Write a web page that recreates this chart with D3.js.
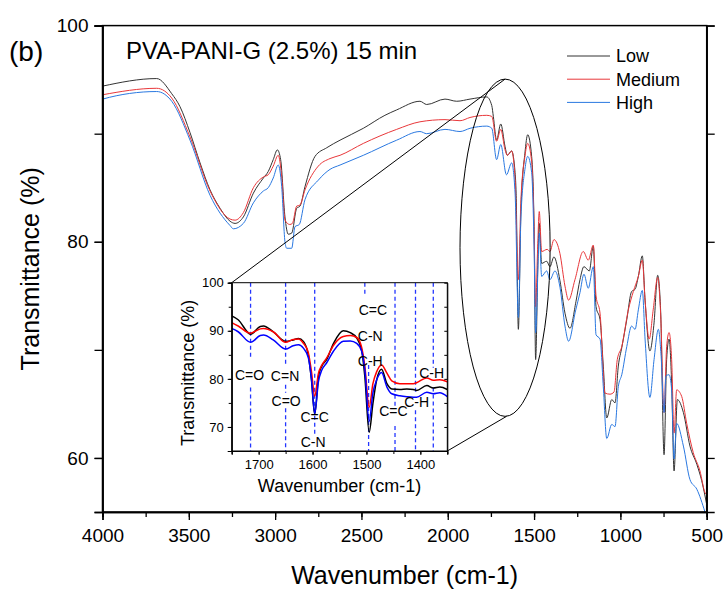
<!DOCTYPE html>
<html lang="en">
<head>
  <meta charset="UTF-8" />
  <title>PVA-PANI-G (2.5%) 15 min FTIR</title>
  <style>
    body { margin: 0; background: #fff; }
    svg { display: block; font-family: "Liberation Sans", Arial, sans-serif; }
    .axis path, .axis line { stroke: #000; }
    .axis text { fill: #000; }
  </style>
  <script src="https://cdn.jsdelivr.net/npm/d3@7"></script>
</head>
<body>
  <svg id="chart" width="728" height="590"></svg>

  <script>
    // ---- data (wavenumber cm-1, transmittance %) ----
    const seriesNames = ['Low', 'Medium', 'High'];

    const lowMain = [
      [4000, 94.4], [3686, 95.1], [3599, 93.7], [3551, 92.5], [3493, 90.1], [3435, 87.3],
      [3377, 84.8], [3319, 83.1], [3261, 81.9], [3232, 81.7], [3184, 82.3], [3126, 84.5],
      [3068, 85.9], [3040, 86.5], [3011, 87.6], [2987, 88.5], [2968, 87.6], [2943, 82.3],
      [2924, 80.7], [2904, 80.8], [2875, 83.1], [2856, 83.3], [2827, 85.1], [2769, 87.9],
      [2701, 88.7], [2624, 89.4], [2489, 90.5], [2364, 91.7], [2296, 92.2], [2161, 93.0],
      [2122, 92.7], [2016, 93.2], [1948, 93.0], [1871, 93.2], [1774, 93.4], [1745, 92.6],
      [1736, 91.6], [1717, 89.4], [1693, 90.9], [1668, 88.8], [1655, 88.0], [1630, 88.4],
      [1610, 86.4], [1604, 84.5], [1591, 71.9], [1576, 83.0], [1553, 88.2], [1537, 89.9],
      [1514, 87.9], [1500, 81.4], [1491, 69.1], [1476, 79.6], [1470, 81.7], [1456, 78.0],
      [1427, 78.2], [1408, 77.7], [1385, 78.6], [1350, 76.4], [1321, 73.4], [1292, 72.0],
      [1257, 74.5], [1234, 76.5], [1211, 77.7], [1180, 77.3], [1157, 79.6], [1141, 74.0],
      [1118, 72.8], [1099, 68.5], [1079, 63.7], [1050, 65.4], [1031, 65.1], [1012, 68.5],
      [992, 70.2], [963, 72.8], [935, 75.4], [915, 75.6], [896, 76.8], [873, 78.7],
      [857, 74.6], [829, 69.9], [805, 72.5], [784, 76.9], [767, 73.7], [747, 60.3],
      [732, 69.1], [718, 71.0], [703, 66.9], [689, 58.8], [670, 65.4], [635, 64.2],
      [597, 61.1], [557, 59.4], [529, 57.9], [500, 55.7]
    ];

    const mediumMain = [
      [4000, 93.6], [3686, 94.2], [3599, 93.3], [3493, 89.7], [3377, 84.7], [3261, 82.1],
      [3232, 82.0], [3184, 82.7], [3126, 85.0], [3068, 86.0], [3040, 86.2], [3011, 87.0],
      [2982, 88.0], [2962, 86.0], [2943, 82.0], [2915, 81.6], [2900, 81.7], [2875, 83.3],
      [2856, 83.4], [2827, 84.8], [2750, 87.0], [2682, 87.7], [2624, 88.0], [2489, 89.1],
      [2296, 90.4], [2161, 91.1], [2016, 91.3], [1929, 91.2], [1871, 91.5], [1774, 91.7],
      [1745, 91.6], [1717, 89.3], [1693, 90.4], [1668, 88.5], [1655, 88.0], [1630, 88.4],
      [1610, 85.7], [1591, 76.5], [1576, 83.9], [1553, 87.9], [1537, 89.1], [1514, 87.4],
      [1500, 81.4], [1491, 74.0], [1479, 79.6], [1470, 82.8], [1456, 79.1], [1424, 79.3],
      [1408, 79.1], [1385, 80.2], [1350, 78.9], [1321, 75.9], [1300, 74.6], [1263, 76.5],
      [1215, 79.1], [1186, 78.3], [1157, 79.7], [1141, 75.0], [1118, 73.4], [1089, 66.0],
      [1060, 65.9], [1037, 66.1], [1018, 69.1], [992, 70.3], [954, 73.7], [925, 75.4],
      [896, 76.8], [873, 78.3], [857, 74.6], [833, 71.0], [810, 73.7], [784, 76.7],
      [767, 73.4], [747, 64.2], [732, 70.3], [718, 71.6], [703, 69.1], [689, 62.3],
      [674, 66.3], [645, 65.7], [616, 63.2], [578, 60.5], [539, 58.8], [510, 56.8],
      [500, 56.6]
    ];

    const highMain = [
      [4000, 55.0], [3999, 93.2], [3686, 93.9], [3599, 93.0], [3493, 89.4], [3377, 84.3],
      [3261, 81.5], [3242, 81.2], [3184, 81.7], [3126, 83.6], [3068, 84.7], [3040, 85.0],
      [3011, 85.9], [2982, 87.1], [2962, 85.1], [2943, 80.0], [2933, 79.4], [2904, 79.4],
      [2885, 81.4], [2860, 81.6], [2827, 83.9], [2750, 85.7], [2682, 86.7], [2624, 87.1],
      [2489, 88.0], [2296, 89.4], [2161, 90.2], [2122, 90.0], [2016, 90.4], [1929, 90.2],
      [1871, 90.5], [1774, 90.7], [1745, 90.5], [1717, 87.6], [1693, 89.0], [1660, 86.2],
      [1630, 87.3], [1610, 84.5], [1591, 73.0], [1576, 82.3], [1553, 86.7], [1537, 87.9],
      [1514, 86.4], [1500, 79.6], [1491, 71.6], [1476, 78.3], [1470, 80.8], [1456, 76.8],
      [1427, 77.3], [1408, 76.5], [1379, 77.3], [1350, 75.8], [1321, 72.2], [1300, 70.8],
      [1260, 73.6], [1234, 75.3], [1211, 77.0], [1186, 75.7], [1157, 77.7], [1141, 71.4],
      [1118, 71.0], [1099, 66.6], [1079, 61.8], [1050, 63.1], [1031, 62.9], [1012, 66.6],
      [992, 67.7], [963, 70.3], [935, 72.2], [915, 71.9], [896, 73.7], [873, 75.5],
      [857, 71.0], [829, 65.6], [805, 69.1], [780, 71.9], [764, 69.4], [747, 64.2],
      [736, 67.6], [718, 67.7], [703, 66.3], [689, 59.9], [674, 63.2], [635, 61.1],
      [597, 58.0], [557, 57.1], [510, 55.0]
    ];

    // inset (1750 - 1350 cm-1)
    const insetWn = [1750, 1738, 1715, 1697, 1691, 1673, 1650, 1636, 1626, 1617, 1608, 1602,
      1596, 1589, 1583, 1574, 1561, 1543, 1530, 1518, 1509, 1503, 1495, 1488, 1481, 1472,
      1462, 1453, 1438, 1425, 1413, 1407, 1388, 1376, 1364, 1350];
    const insetLow = [93.1, 92.3, 89.3, 90.9, 91.0, 89.8, 87.8, 88.1, 88.4, 87.8, 85.0, 79.8,
      72.6, 80.5, 82.6, 84.0, 87.4, 90.0, 89.6, 88.5, 86.0, 80.5, 68.9, 74.9, 79.8, 82.0,
      79.0, 77.9, 77.8, 77.9, 77.8, 77.6, 78.6, 78.1, 78.3, 77.8];
    const insetMedium = [91.7, 91.0, 89.5, 90.4, 90.5, 89.8, 87.6, 88.2, 88.3, 87.4, 85.5, 81.5,
      76.4, 81.2, 82.8, 84.3, 87.0, 88.8, 89.0, 88.6, 86.6, 82.6, 74.1, 79.0, 81.5, 82.9,
      81.2, 79.6, 79.0, 79.0, 79.0, 79.2, 80.2, 79.7, 79.8, 79.4];
    const insetHigh = [90.5, 89.8, 87.6, 89.0, 89.1, 88.1, 86.2, 86.9, 87.1, 86.4, 84.5, 80.0,
      72.8, 79.5, 81.8, 83.3, 85.8, 87.8, 87.9, 87.4, 85.8, 81.9, 71.2, 77.1, 79.8, 81.3,
      78.3, 76.9, 76.5, 76.3, 76.2, 76.2, 77.2, 76.9, 77.1, 76.3];

    // band markers in the inset: wavenumber and visible dashed segments [from, to] in %
    const bandLines = [
      { wn: 1715, segs: [[100, 84.4], [78.2, 65]] },
      { wn: 1650, segs: [[100, 82.6], [78.8, 77.1], [73.9, 65]] },
      { wn: 1596, segs: [[100, 68.2]] },
      { wn: 1503, segs: [[100, 97.4]] },
      { wn: 1496, segs: [[82.9, 65]] },
      { wn: 1447, segs: [[100, 74.3], [70.2, 65]] },
      { wn: 1409, segs: [[100, 76.8], [73.5, 65]] },
      { wn: 1376, segs: [[100, 82.3], [78.2, 65]] }
    ];
    const bandLabels = [
      { text: 'C=O', wn: 1717, t: 79.8 },
      { text: 'C=N', wn: 1651, t: 79.6 },
      { text: 'C=O', wn: 1649, t: 74.3 },
      { text: 'C=C', wn: 1596, t: 71.0 },
      { text: 'C-N', wn: 1599, t: 65.8 },
      { text: 'C=C', wn: 1488, t: 93.3 },
      { text: 'C-N', wn: 1493, t: 87.9 },
      { text: 'C-H', wn: 1493, t: 82.6 },
      { text: 'C=C', wn: 1450, t: 72.3 },
      { text: 'C-H', wn: 1407, t: 74.1 },
      { text: 'C-H', wn: 1379, t: 80.1 }
    ];

    const mainXTicks = d3.range(4000, 499, -500);
    const mainYTicks = [100, 80, 60];
    const insetXTicks = [1700, 1600, 1500, 1400];
    const insetYTicks = [100, 90, 80, 70];

    // zoom ellipse (centre wn / %, half widths in wn / %)
    const zoomEllipse = { wn: 1668, t: 79.45, dwn: 261, dt: 15.6 };

    // ---- layout ----
    const mainColors = ['#333333', '#e8373a', '#2a78e0'];
    const insetColors = ['#000000', '#ff0000', '#0000ff'];
    const plot = { left: 102.5, right: 706.7, top: 25.6, bottom: 512 };
    const inset = { left: 231.7, right: 447.3, top: 282.7, bottom: 451 };

    const svg = d3.select('#chart');

    const x = d3.scaleLinear().domain([4000, 500]).range([plot.left, plot.right]);
    const y = d3.scaleLinear().domain([55, 100]).range([plot.bottom, plot.top]);

    // main spectra
    const mainLine = d3.line()
      .x(d => x(d[0]))
      .y(d => y(d[1]))
      .curve(d3.curveMonotoneX);

    svg.append('defs').append('clipPath').attr('id', 'mainClip')
      .append('rect')
      .attr('x', plot.left).attr('y', plot.top)
      .attr('width', plot.right - plot.left).attr('height', plot.bottom - plot.top);

    const mainG = svg.append('g').attr('clip-path', 'url(#mainClip)');
    [lowMain, mediumMain, highMain].forEach((s, i) => {
      mainG.append('path')
        .datum(s)
        .attr('d', mainLine)
        .attr('fill', 'none')
        .attr('stroke', mainColors[i])
        .attr('stroke-width', 1);
    });

    // axes
    const xMinor = d3.axisBottom(x).tickValues(d3.range(4000, 499, -250)).tickSize(5).tickFormat('');
    const xMajor = d3.axisBottom(x).tickValues(mainXTicks).tickSize(8).tickPadding(9).tickFormat(d3.format('d'));
    svg.append('g').attr('class', 'axis').attr('transform', `translate(0,${plot.bottom})`).call(xMinor);
    svg.append('g').attr('class', 'axis').attr('transform', `translate(0,${plot.bottom})`).call(xMajor)
      .selectAll('text').style('font-size', '19px');

    const yAll = d3.axisLeft(y).tickValues(d3.range(100, 59, -10)).tickSize(8).tickFormat('');
    const yMajor = d3.axisLeft(y).tickValues(mainYTicks).tickSize(8).tickPadding(6);
    svg.append('g').attr('class', 'axis').attr('transform', `translate(${plot.left},0)`).call(yAll);
    svg.append('g').attr('class', 'axis').attr('transform', `translate(${plot.left},0)`).call(yMajor)
      .selectAll('text').style('font-size', '19px');

    svg.append('g').attr('class', 'axis').attr('transform', `translate(${plot.right},0)`)
      .call(d3.axisRight(y).tickValues(d3.range(100, 59, -10)).tickSize(8).tickFormat(''));

    svg.selectAll('.axis path').attr('stroke-width', 1.5);
    svg.selectAll('.axis line').attr('stroke-width', 1.3);

    svg.append('rect')
      .attr('x', plot.left).attr('y', plot.top)
      .attr('width', plot.right - plot.left).attr('height', plot.bottom - plot.top)
      .attr('fill', 'none').attr('stroke', '#000').attr('stroke-width', 1.5);

    // titles
    svg.append('text')
      .attr('x', (plot.left + plot.right) / 2).attr('y', 584)
      .attr('text-anchor', 'middle').style('font-size', '25px')
      .text('Wavenumber (cm-1)');
    svg.append('text')
      .attr('transform', `translate(39,${(plot.top + plot.bottom) / 2}) rotate(-90)`)
      .attr('text-anchor', 'middle').style('font-size', '25px')
      .text('Transmittance (%)');
    svg.append('text').attr('x', 9).attr('y', 61).style('font-size', '28px').text('(b)');
    svg.append('text').attr('x', 126).attr('y', 59).style('font-size', '24px')
      .text('PVA-PANI-G (2.5%) 15 min');

    // legend
    const legend = svg.append('g').attr('transform', 'translate(567,56)');
    seriesNames.forEach((name, i) => {
      const row = legend.append('g').attr('transform', `translate(0,${i * 23.2})`);
      row.append('line').attr('x1', 0).attr('x2', 43).attr('y1', 0).attr('y2', 0)
        .attr('stroke', mainColors[i]).attr('stroke-width', 1);
      row.append('text').attr('x', 49).attr('y', 6.3).style('font-size', '18px').text(name);
    });

    // zoom ellipse and connectors
    const ecx = x(zoomEllipse.wn), ecy = y(zoomEllipse.t);
    const erx = Math.abs(x(zoomEllipse.wn - zoomEllipse.dwn) - ecx);
    const ery = Math.abs(y(zoomEllipse.t + zoomEllipse.dt) - ecy);
    svg.append('ellipse')
      .attr('cx', ecx).attr('cy', ecy).attr('rx', erx).attr('ry', ery)
      .attr('fill', 'none').attr('stroke', '#000').attr('stroke-width', 1);
    svg.append('line')
      .attr('x1', inset.left).attr('y1', inset.top).attr('x2', ecx).attr('y2', ecy - ery)
      .attr('stroke', '#000').attr('stroke-width', 1);
    svg.append('line')
      .attr('x1', inset.right).attr('y1', inset.bottom).attr('x2', ecx + 1.5).attr('y2', ecy + ery)
      .attr('stroke', '#000').attr('stroke-width', 1);

    // ---- inset ----
    const ix = d3.scaleLinear().domain([1750, 1350]).range([inset.left, inset.right]);
    const iy = d3.scaleLinear().domain([65, 100]).range([inset.bottom, inset.top]);

    svg.append('rect')
      .attr('x', inset.left).attr('y', inset.top)
      .attr('width', inset.right - inset.left).attr('height', inset.bottom - inset.top)
      .attr('fill', '#fff');

    svg.select('defs').append('clipPath').attr('id', 'insetClip')
      .append('rect')
      .attr('x', inset.left).attr('y', inset.top)
      .attr('width', inset.right - inset.left).attr('height', inset.bottom - inset.top);

    const ig = svg.append('g').attr('clip-path', 'url(#insetClip)');

    bandLines.forEach(b => {
      b.segs.forEach(s => {
        ig.append('line')
          .attr('x1', ix(b.wn)).attr('x2', ix(b.wn))
          .attr('y1', iy(s[0])).attr('y2', iy(s[1]))
          .attr('stroke', '#2436ff').attr('stroke-width', 1.3)
          .attr('stroke-dasharray', '4,3');
      });
    });

    const insetLine = d3.line()
      .x((d, i) => ix(insetWn[i]))
      .y(d => iy(d))
      .curve(d3.curveMonotoneX);

    [insetLow, insetMedium, insetHigh].forEach((s, i) => {
      ig.append('path')
        .datum(s)
        .attr('d', insetLine)
        .attr('fill', 'none')
        .attr('stroke', insetColors[i])
        .attr('stroke-width', 1.5);
    });

    ig.selectAll('text.band')
      .data(bandLabels)
      .enter().append('text')
      .attr('class', 'band')
      .attr('x', d => ix(d.wn)).attr('y', d => iy(d.t))
      .attr('text-anchor', 'middle')
      .style('font-size', '14px')
      .text(d => d.text);

    // inset axes
    const ixAxis = d3.axisBottom(ix).tickValues(d3.range(1750, 1349, -50)).tickSize(3).tickFormat('');
    svg.append('g').attr('class', 'axis').attr('transform', `translate(0,${inset.bottom})`).call(ixAxis);
    svg.append('g').attr('class', 'axis').attr('transform', `translate(0,${inset.bottom})`)
      .call(d3.axisBottom(ix).tickValues(insetXTicks).tickSize(4).tickPadding(5).tickFormat(d3.format('d')))
      .selectAll('text').style('font-size', '13px');

    svg.append('g').attr('class', 'axis').attr('transform', `translate(${inset.left},0)`)
      .call(d3.axisLeft(iy).tickValues(d3.range(100, 64, -5)).tickSize(3).tickFormat(''));
    svg.append('g').attr('class', 'axis').attr('transform', `translate(${inset.left},0)`)
      .call(d3.axisLeft(iy).tickValues(insetYTicks).tickSize(4).tickPadding(4))
      .selectAll('text').style('font-size', '13px');

    svg.append('g').attr('class', 'axis').attr('transform', `translate(${inset.right},0)`)
      .call(d3.axisLeft(iy).tickValues(d3.range(95, 64, -5)).tickSize(3).tickFormat(''));

    svg.append('rect')
      .attr('x', inset.left).attr('y', inset.top)
      .attr('width', inset.right - inset.left).attr('height', inset.bottom - inset.top)
      .attr('fill', 'none').attr('stroke', '#000').attr('stroke-width', 1);

    svg.append('text')
      .attr('x', (inset.left + inset.right) / 2).attr('y', 492)
      .attr('text-anchor', 'middle').style('font-size', '18px')
      .text('Wavenumber (cm-1)');
    svg.append('text')
      .attr('transform', `translate(194,${(inset.top + inset.bottom) / 2 + 6}) rotate(-90)`)
      .attr('text-anchor', 'middle').style('font-size', '18px')
      .text('Transmittance (%)');
  </script>
</body>
</html>
